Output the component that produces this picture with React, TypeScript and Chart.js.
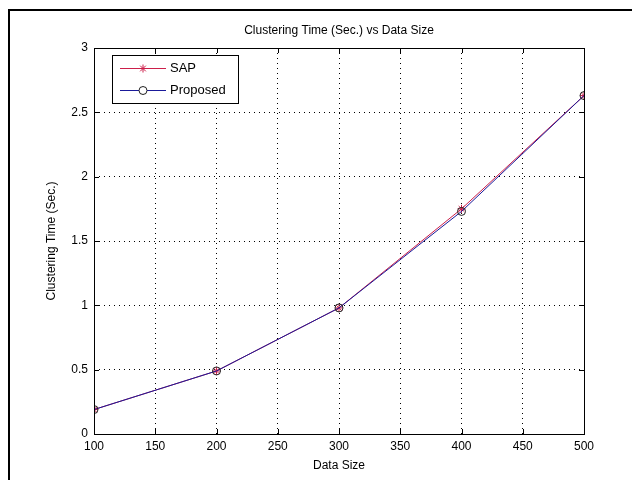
import React, { useEffect, useRef } from "react";
import { Chart, registerables } from "chart.js";

Chart.register(...registerables);

const dataSize = [100, 200, 300, 400, 500];
const sapTime = [0.19, 0.49, 0.98, 1.75, 2.63];
const proposedTime = [0.19, 0.49, 0.98, 1.73, 2.63];
const seriesNames = ["SAP", "Proposed"];
const chartTitle = "Clustering Time (Sec.) vs Data Size";
const xTitle = "Data Size";
const yTitle = "Clustering Time (Sec.)";

const FONT = "'Liberation Sans', Arial, sans-serif";
const SAP_COLOR = "#cc1f4a";
const PROP_COLOR = "#1a1a9a";

function drawStar(ctx: CanvasRenderingContext2D, x: number, y: number, r: number, color: string) {
  ctx.save();
  ctx.strokeStyle = color;
  ctx.lineWidth = 1;
  ctx.beginPath();
  for (let i = 0; i < 4; i++) {
    const a = (i * Math.PI) / 4;
    ctx.moveTo(x - r * Math.cos(a), y - r * Math.sin(a));
    ctx.lineTo(x + r * Math.cos(a), y + r * Math.sin(a));
  }
  ctx.stroke();
  ctx.restore();
}

const framePlugin = {
  id: "framePlugin",
  beforeDraw(chart: any) {
    const { ctx, width, height } = chart;
    ctx.save();
    ctx.fillStyle = "#ffffff";
    ctx.fillRect(0, 0, width, height);
    ctx.strokeStyle = "#000000";
    ctx.lineWidth = 2;
    ctx.beginPath();
    ctx.moveTo(9, height);
    ctx.lineTo(9, 10);
    ctx.lineTo(width, 10);
    ctx.stroke();
    ctx.restore();
  },
  afterDraw(chart: any) {
    const { ctx, chartArea } = chart;
    const { left, right, top, bottom } = chartArea;
    const xs = chart.scales.x;
    const ys = chart.scales.y;
    ctx.save();
    ctx.strokeStyle = "#000";
    ctx.lineWidth = 1;
    ctx.strokeRect(Math.round(left) + 0.5, Math.round(top) + 0.5, Math.round(right - left), Math.round(bottom - top));
    ctx.beginPath();
    xs.ticks.forEach((t: any) => {
      const px = Math.round(xs.getPixelForValue(t.value)) + 0.5;
      ctx.moveTo(px, bottom);
      ctx.lineTo(px, bottom - 5);
      ctx.moveTo(px, top);
      ctx.lineTo(px, top + 5);
    });
    ys.ticks.forEach((t: any) => {
      const py = Math.round(ys.getPixelForValue(t.value)) + 0.5;
      ctx.moveTo(left, py);
      ctx.lineTo(left + 5, py);
      ctx.moveTo(right, py);
      ctx.lineTo(right - 5, py);
    });
    ctx.stroke();

    ctx.fillStyle = "#000";
    ctx.font = `12px ${FONT}`;
    ctx.textAlign = "center";
    ctx.textBaseline = "middle";
    ctx.fillText(chartTitle, (left + right) / 2, 31);
    ctx.fillText(xTitle, (left + right) / 2, 466);
    ctx.save();
    ctx.translate(52, (top + bottom) / 2);
    ctx.rotate(-Math.PI / 2);
    ctx.fillText(yTitle, 0, 0);
    ctx.restore();

    ctx.fillStyle = "#fff";
    ctx.fillRect(112.5, 55.5, 126, 48);
    ctx.strokeStyle = "#000";
    ctx.strokeRect(112.5, 55.5, 126, 48);
    const rows = [
      { name: seriesNames[0], color: SAP_COLOR, y: 68.5, marker: "star" },
      { name: seriesNames[1], color: PROP_COLOR, y: 90.5, marker: "circle" },
    ];
    rows.forEach((r) => {
      ctx.strokeStyle = r.color;
      ctx.lineWidth = 1;
      ctx.beginPath();
      ctx.moveTo(120, r.y);
      ctx.lineTo(166, r.y);
      ctx.stroke();
      if (r.marker === "star") {
        drawStar(ctx, 143, r.y, 4, SAP_COLOR);
      } else {
        ctx.fillStyle = "#fff";
        ctx.strokeStyle = "#222";
        ctx.beginPath();
        ctx.arc(143, r.y, 4, 0, Math.PI * 2);
        ctx.fill();
        ctx.stroke();
      }
      ctx.fillStyle = "#000";
      ctx.font = `13px ${FONT}`;
      ctx.textAlign = "left";
      ctx.textBaseline = "middle";
      ctx.fillText(r.name, 170, r.y);
    });
    ctx.restore();
  },
};

export default function App() {
  const ref = useRef<HTMLCanvasElement | null>(null);
  useEffect(() => {
    document.body.style.margin = "0";
    if (!ref.current) return;
    const chart = new Chart(ref.current, {
      type: "line",
      data: {
        datasets: [
          {
            label: seriesNames[0],
            data: dataSize.map((x, i) => ({ x, y: sapTime[i] })),
            borderColor: SAP_COLOR,
            backgroundColor: SAP_COLOR,
            borderWidth: 1,
            pointStyle: "star",
            pointRadius: 4,
            pointBorderColor: SAP_COLOR,
            pointBorderWidth: 1,
            tension: 0,
            order: 1,
          },
          {
            label: seriesNames[1],
            data: dataSize.map((x, i) => ({ x, y: proposedTime[i] })),
            borderColor: PROP_COLOR,
            backgroundColor: "rgba(0,0,0,0)",
            borderWidth: 1,
            pointStyle: "circle",
            pointRadius: 4,
            pointBorderColor: "#222",
            pointBackgroundColor: "rgba(0,0,0,0)",
            pointBorderWidth: 1,
            tension: 0,
            order: 0,
          },
        ],
      },
      options: {
        animation: false,
        responsive: false,
        devicePixelRatio: 1,
        layout: { padding: { left: 0, top: 48, right: 48, bottom: 0 } },
        plugins: { legend: { display: false }, title: { display: false }, tooltip: { enabled: false } },
        scales: {
          x: {
            type: "linear",
            min: 100,
            max: 500,
            afterFit: (s: any) => {
              s.height = 46;
            },
            ticks: { stepSize: 50, padding: 5, color: "#000", font: { family: FONT, size: 12 }, maxRotation: 0 },
            grid: { color: "#000", lineWidth: 1, drawTicks: false } as any,
            border: { display: false, dash: [1, 4] } as any,
          },
          y: {
            type: "linear",
            min: 0,
            max: 3,
            afterFit: (s: any) => {
              s.width = 94;
            },
            ticks: {
              stepSize: 0.5,
              padding: 6,
              color: "#000",
              font: { family: FONT, size: 12 },
              callback: (v: any) => String(Number(v)),
            },
            grid: { color: "#000", lineWidth: 1, drawTicks: false } as any,
            border: { display: false, dash: [1, 4] } as any,
          },
        },
      } as any,
      plugins: [framePlugin],
    });
    return () => chart.destroy();
  }, []);
  return (
    <div style={{ width: 632, height: 480 }}>
      <canvas ref={ref} width={632} height={480} style={{ display: "block", width: 632, height: 480 }} />
    </div>
  );
}
